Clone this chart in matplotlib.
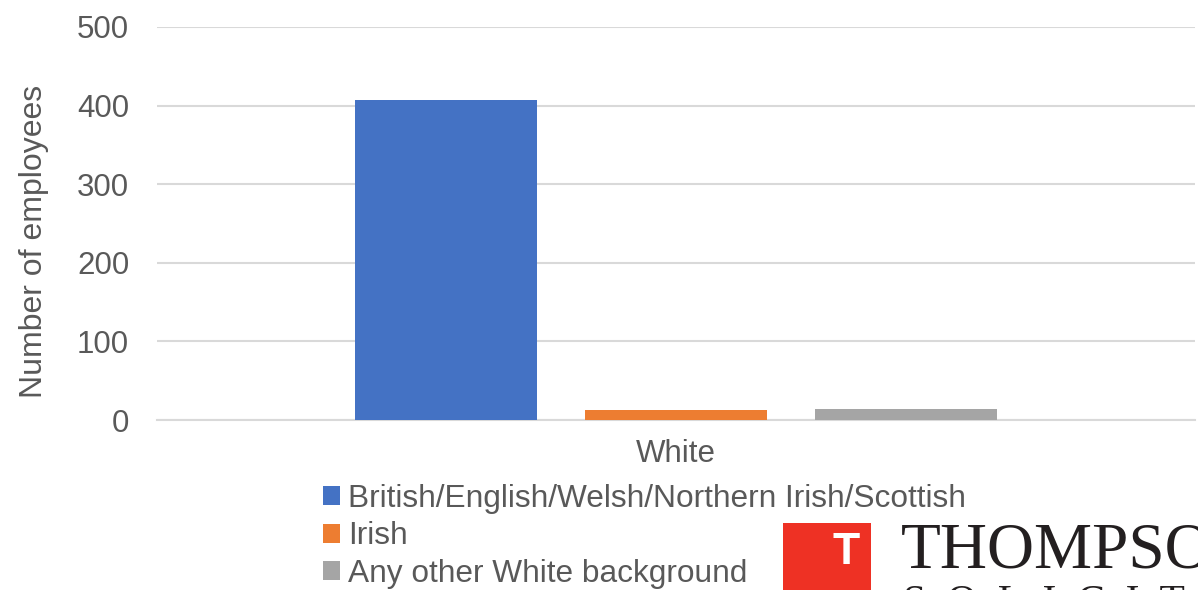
import matplotlib
matplotlib.use('Agg')
import matplotlib.pyplot as plt
from matplotlib.patches import Rectangle, Patch

categories = ['White']
series_names = ['British/English/Welsh/Northern Irish/Scottish', 'Irish', 'Any other White background']
series_values = [[407], [13], [14]]
colors = ['#4472C4', '#ED7D31', '#A5A5A5']
y_ticks = [0, 100, 200, 300, 400, 500]

plt.rcParams['font.family'] = ['Liberation Sans', 'DejaVu Sans']
text_color = '#595959'

fig = plt.figure(figsize=(11.98, 5.90), dpi=100)
ax = fig.add_axes([157 / 1198, 1 - 420 / 590, (1195 - 157) / 1198, (420 - 27) / 590])

bar_w = 0.175
offsets = [-0.2216, 0.0, 0.2216]
for i, (name, vals) in enumerate(zip(series_names, series_values)):
    xs = [j + offsets[i] for j in range(len(categories))]
    ax.bar(xs, vals, width=bar_w, color=colors[i], label=name, zorder=3)

ax.set_xlim(-0.5, len(categories) - 0.5)
ax.set_ylim(0, 500)
ax.set_yticks(y_ticks)
ax.set_xticks(range(len(categories)))
ax.set_xticklabels(categories)
ax.tick_params(axis='both', length=0, labelsize=22.5, colors=text_color)
ax.tick_params(axis='y', pad=20)
ax.tick_params(axis='x', pad=14)
ax.grid(axis='y', color='#D9D9D9', linewidth=1.5, zorder=0)
for s in ['top', 'right', 'left']:
    ax.spines[s].set_visible(False)
ax.spines['bottom'].set_color('#D9D9D9')
ax.spines['bottom'].set_linewidth(1.5)
ax.set_ylabel('Number of employees', fontsize=23, color=text_color)
ax.yaxis.set_label_coords(-108 / 1038, (420 - 241) / 393)

handles = [Patch(facecolor=c, edgecolor='none') for c in colors]
fig.legend(handles, series_names, loc='upper left', bbox_to_anchor=(323 / 1198, 1 - 484 / 590),
           frameon=False, fontsize=22.8, handlelength=0.55, handleheight=0.55, handletextpad=0.25,
           labelspacing=0.23, borderaxespad=0, borderpad=0, labelcolor=text_color)

# logo in the bottom-right corner
fig.patches.append(Rectangle((783 / 1198, 0), (871 - 783) / 1198, (590 - 523) / 590,
                             transform=fig.transFigure, facecolor='#EE3124', edgecolor='none'))
fig.text(846 / 1198, 1 - 553 / 590, 'T', color='white', fontsize=32, fontweight='bold',
         ha='center', va='center')
fig.text(901 / 1198, 1 - 567 / 590, 'THOMPSONS', family='Liberation Serif', fontsize=47,
         color='#231F20', ha='left', va='baseline')
fig.text(903 / 1198, 1 - 614 / 590, 'S  O  L  I  C  I  T  O  R  S', family='Liberation Serif',
         fontsize=30, color='#231F20', ha='left', va='baseline')

fig.savefig('out.png', dpi=100)
